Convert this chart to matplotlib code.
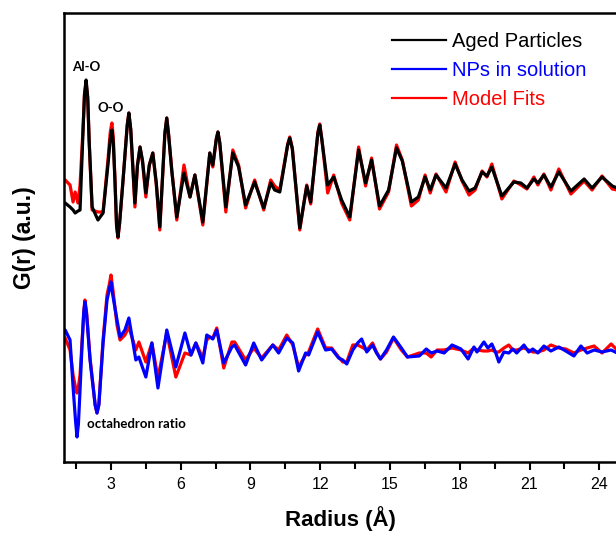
import matplotlib
matplotlib.use("Agg")
import matplotlib.pyplot as plt
import numpy as np

# Radius (Å) sampling for upper pair of curves
r_top = [1.03, 1.24, 1.37, 1.46, 1.58, 1.67, 1.80, 1.86, 1.93, 2.00, 2.06, 2.19, 2.44, 2.66,
         2.87, 2.97, 3.04, 3.10, 3.17, 3.24, 3.30, 3.37, 3.52, 3.70, 3.77, 3.85, 4.03, 4.14,
         4.25, 4.36, 4.50, 4.65, 4.80, 4.95, 5.10, 5.32, 5.40, 5.48, 5.61, 5.83, 6.14, 6.40,
         6.61, 6.95, 7.25, 7.38, 7.53, 7.60, 7.68, 7.94, 8.24, 8.49, 8.79, 9.18, 9.57, 9.87,
         10.04, 10.26, 10.60, 10.69, 10.80, 11.12, 11.42, 11.59, 11.90, 11.98, 12.07, 12.32,
         12.58, 12.92, 13.27, 13.65, 13.95, 14.21,
         14.55, 14.94, 15.28, 15.53, 15.92, 16.22, 16.51, 16.73, 16.98, 17.41, 17.80, 18.10,
         18.40, 18.66, 18.96, 19.17, 19.38, 19.81, 20.33, 20.63, 20.89, 21.19, 21.36, 21.62,
         21.92, 22.26, 22.78, 23.35, 23.69, 24.12, 24.56, 24.77]

g_aged = [-1.8, -2.2, -2.5, -2.8, -2.6, -2.5, 5.5, 9.0, 10.5, 8.8, 4.5, -2.2, -3.5, -2.8,
          2.0, 4.6, 5.5, 4.2, 0.5, -4.0, -5.2, -3.8, 0.5, 6.0, 7.2, 5.6, -1.8, 2.0,
          3.8, 2.4, -0.8, 2.0, 3.2, 0.2, -4.2, 5.2, 6.7, 5.0, 1.5, -3.2, 1.2, -1.2,
          1.0, -3.7, 3.2, 2.0, 4.6, 5.3, 4.2, -2.2, 3.2, 1.8, -2.0, 0.3, -2.3, 0.2,
          -0.5, -0.7, 4.0, 4.7, 3.6, -4.3, -0.1, -1.7, 5.2, 6.0, 4.5, 0.0,
          0.8, -1.5, -3.2, 3.5, 0.2, 2.5,
          -2.1, -0.5, 3.7, 2.4, -1.7, -1.2, 0.8, -0.5, 1.0, -0.3, 2.1, 0.5,
          -0.6, -0.3, 1.3, 0.9, 1.8, -1.1, 0.3, 0.2, -0.3, 0.6, 0.2, 1.0,
          -0.2, 1.3, -0.6, 0.6, -0.3, 0.8, -0.1, -0.3]

g_fit_aged = [0.5, 0.0, -1.7, -0.7, -1.8, 0.0, 5.7, 9.0, 10.3, 8.6, 4.5, -2.5, -2.7, -2.7,
              2.5, 5.3, 6.2, 4.8, 0.7, -4.1, -5.3, -3.9, 0.5, 6.0, 7.2, 5.5, -2.2, 2.0,
              3.8, 2.2, -1.2, 2.0, 3.2, 0.0, -4.5, 5.2, 6.7, 5.0, 1.7, -3.5, 2.0, -1.2,
              1.0, -4.0, 3.2, 1.8, 4.6, 5.3, 4.2, -2.7, 3.5, 2.0, -2.3, 0.5, -2.5, 0.5,
              -0.1, -0.5, 4.1, 4.8, 3.7, -4.5, 0.0, -1.9, 5.3, 6.1, 4.6, -0.8,
              1.0, -1.8, -3.5, 3.8, -0.1, 2.7,
              -2.4, -0.7, 4.0, 2.5, -2.1, -1.5, 1.0, -0.8, 1.1, -0.7, 2.3, 0.4,
              -1.0, -0.5, 1.4, 0.8, 2.1, -1.4, 0.4, 0.0, -0.4, 0.8, 0.0, 1.1,
              -0.5, 1.6, -0.9, 0.4, -0.5, 0.9, -0.4, -0.5]

# Radius (Å) sampling for lower pair of curves
r_bot = [1.03, 1.24, 1.37, 1.48, 1.54, 1.60, 1.67, 1.76, 1.83, 1.88, 1.95, 2.10, 2.32, 2.40,
         2.48, 2.66, 2.83, 2.94, 3.00, 3.07, 3.26, 3.39,
         3.60, 3.77, 4.07, 4.20, 4.50, 4.76, 5.02, 5.40, 5.79, 6.18, 6.44, 6.65, 6.95, 7.12,
         7.25, 7.38, 7.55, 7.85, 8.20, 8.32, 8.79, 9.14, 9.48, 9.96, 10.21, 10.56, 10.82,
         11.07, 11.37, 11.50, 11.89, 12.23, 12.49, 12.79, 12.97, 13.14, 13.40, 13.61, 13.78,
         14.00, 14.25, 14.42, 14.59, 14.85, 15.15, 15.49, 15.75, 16.26, 16.56, 16.77, 17.03,
         17.33, 17.67, 18.05, 18.36, 18.61, 18.74, 19.04, 19.21, 19.38, 19.55, 19.68, 19.90,
         20.11, 20.28, 20.45, 20.76, 20.97, 21.14, 21.36, 21.62, 21.92, 22.26, 22.56, 22.91,
         23.21, 23.48, 23.78, 24.12, 24.51, 24.77]

g_nps = [2.2, 1.2, -3.5, -7.0, -8.5, -7.2, -3.8, 0.9, 4.0, 5.0, 3.8, -0.8, -5.3, -6.1,
         -5.3, 0.9, 5.2, 6.4, 7.0, 5.8, 3.2, 1.5,
         2.2, 3.4, -0.8, -0.5, -2.5, 0.9, -3.6, 2.2, -1.5, 1.9, -0.3, 0.9, -1.1, 1.7,
         1.5, 1.3, 2.2, -1.1, 0.5, 0.7, -1.3, 0.9, -0.8, 0.7, -0.1, 1.4, 0.9,
         -1.9, -0.1, -0.3, 2.0, 0.2, 0.3, -0.6, -0.8, -1.2, 0.2, 0.9, 1.3,
         0.0, 0.7, -0.1, -0.7, 0.2, 1.5, 0.4, -0.5, -0.4, 0.3, -0.1, 0.1,
         -0.1, 0.7, 0.3, -0.7, 0.5, 0.0, 1.0, 0.4, 0.8, -0.1, -1.0, 0.0,
         -0.1, 0.3, -0.1, 0.7, 0.0, 0.3, -0.1, 0.6, 0.1, 0.5, 0.1, -0.4,
         0.6, -0.1, 0.2, 0.0, 0.2, -0.1]

g_fit_nps = [1.4, 0.2, -2.3, -3.6, -4.1, -3.5, -2.3, 1.2, 4.0, 5.2, 4.0, -0.6, -5.3, -6.1,
             -5.2, 1.2, 5.7, 6.9, 7.7, 6.5, 2.7, 1.2,
             1.7, 2.5, 0.2, 1.0, -1.0, 0.9, -2.6, 1.9, -2.5, -0.1, -0.3, 0.9, -0.6, 1.2,
             1.5, 1.4, 2.4, -1.6, 1.0, 1.0, -0.8, 0.4, -0.6, 0.7, 0.2, 1.7, 0.7,
             -1.5, -0.3, 0.0, 2.3, 0.4, 0.4, -0.5, -1.0, -1.0, 0.7, 0.7, 0.5,
             0.2, 0.9, 0.0, -0.7, 0.0, 1.4, 0.2, -0.5, -0.1, -0.1, -0.5, 0.2,
             0.2, 0.4, 0.2, -0.1, 0.4, 0.2, 0.1, 0.1, 0.2, 0.0, 0.0, 0.4,
             0.7, 0.2, 0.2, 0.4, 0.2, 0.0, 0.0, 0.2, 0.7, 0.4, 0.3, -0.1,
             0.2, 0.4, 0.6, -0.1, 0.8, 0.2]

offset_top = 27.7
offset_bot = 11.0

labels = ["Aged Particles", "NPs in solution", "Model Fits"]
colors = ["black", "blue", "red"]

plt.rcParams["font.family"] = ["Liberation Sans", "DejaVu Sans"]

fig = plt.figure(figsize=(6.16, 5.34), dpi=100)
ax = fig.add_axes([64 / 616, 1 - 462 / 534, 1 - 64 / 616, (462 - 13) / 534])

lw = 2.3
kw = dict(lw=lw, solid_joinstyle="round", solid_capstyle="round")
ax.plot(r_top, np.array(g_fit_aged) + offset_top, color="red", **kw)
ax.plot(r_top, np.array(g_aged) + offset_top, color="black", **kw)
ax.plot(r_bot, np.array(g_fit_nps) + offset_bot, color="red", **kw)
ax.plot(r_bot, np.array(g_nps) + offset_bot, color="blue", **kw)

ax.set_xlim(0.98, 24.72)
ax.set_ylim(0, 44.9)

ax.set_xticks(np.arange(3, 25, 3))
ax.set_xticks(np.arange(1.5, 25, 1.5), minor=True)
ax.set_yticks([])
ax.tick_params(axis="x", which="major", direction="out", length=6, width=1.5,
               labelsize=11.5, pad=5)
ax.tick_params(axis="x", which="minor", direction="out", length=5, width=1.5)
for s in ["left", "bottom", "top"]:
    ax.spines[s].set_linewidth(1.8)
ax.spines["right"].set_visible(False)

ax.set_xlabel("Radius (Å)", fontsize=16, fontweight="bold", labelpad=10)
ax.set_ylabel("G(r) (a.u.)", fontsize=16.5, fontweight="bold", va="center")
ax.yaxis.set_label_coords(-40 / 552, 0.5)

ann_font = dict(family=["Lato", "DejaVu Sans"], fontweight="bold", fontsize=9.5,
                color="black", ha="left", va="center")
ax.text(1.33, 39.5, "Al-O", **ann_font)
ax.text(2.40, 35.4, "O-O", **ann_font)
ax.text(1.97, 3.8, "octahedron ratio", **ann_font)

handles = [plt.Line2D([], [], color=c, lw=1.6) for c in colors]
leg = fig.legend(handles, labels, loc="upper left",
                 bbox_to_anchor=(392 / 616, 1 - 32 / 534),
                 frameon=False, fontsize=14.5, handlelength=2.7, handletextpad=0.3,
                 labelspacing=0.5, borderpad=0, borderaxespad=0)
for t, c in zip(leg.get_texts(), colors):
    t.set_color(c)

fig.savefig("out.png", dpi=100)
